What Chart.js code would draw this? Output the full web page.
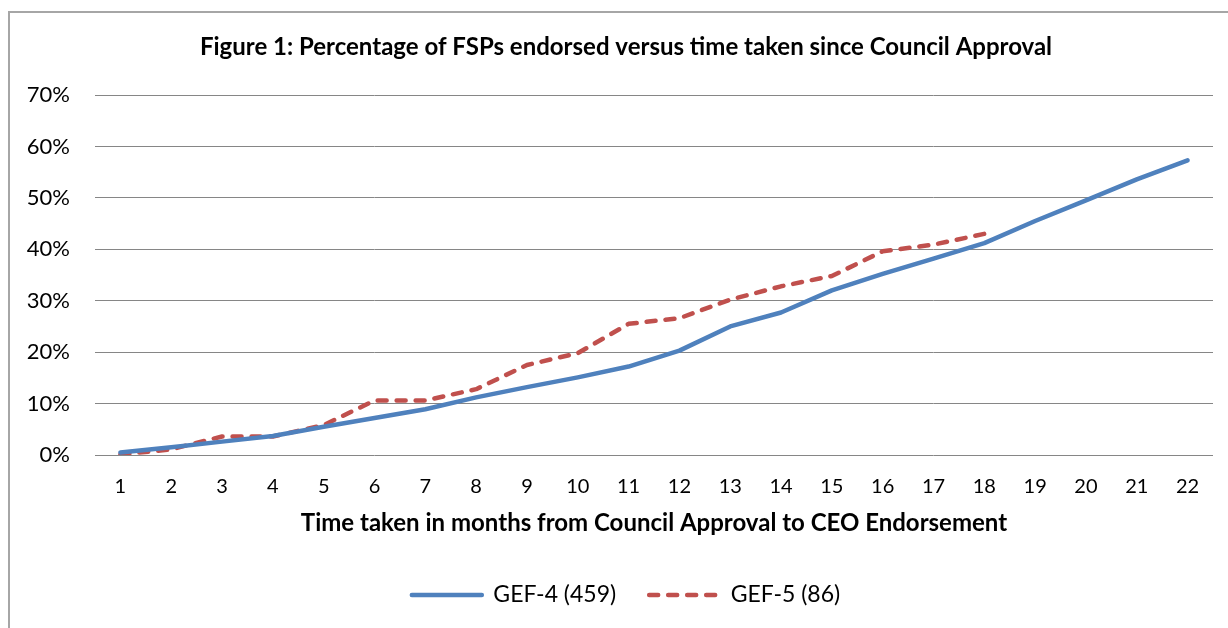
<!DOCTYPE html>
<html>
<head>
<meta charset="utf-8">
<script src="https://cdn.jsdelivr.net/npm/chart.js@4/dist/chart.umd.min.js"></script>
<style>
  html, body { margin: 0; padding: 0; background: #ffffff; }
  #wrap { width: 1228px; height: 628px; position: relative; }
</style>
</head>
<body>
<div id="wrap"><canvas id="c" width="1228" height="628"></canvas></div>
<script>
const months = ["1","2","3","4","5","6","7","8","9","10","11","12","13","14","15","16","17","18","19","20","21","22"];
const gef4 = [0.5,1.5,2.6,3.7,5.5,7.2,8.9,11.2,13.2,15.1,17.2,20.3,25.0,27.7,32.0,35.2,38.2,41.2,45.5,49.5,53.6,57.3];
const gef5 = [0.1,1.1,3.6,3.6,5.8,10.6,10.6,12.8,17.5,19.8,25.5,26.6,30.2,32.8,34.8,39.6,40.9,43.0];
const seriesNames = ["GEF-4 (459)", "GEF-5 (86)"];
const titleText = "Figure 1: Percentage of FSPs endorsed versus time taken since Council Approval";
const xTitleText = "Time taken in months from Council Approval to CEO Endorsement";

const FONT = "Lato, 'Open Sans', sans-serif";

const framePlugin = {
  id: 'frame',
  beforeDraw(chart) {
    const ctx = chart.ctx;
    ctx.save();
    ctx.fillStyle = '#ffffff';
    ctx.fillRect(0, 0, chart.width, chart.height);
    ctx.strokeStyle = '#a6a6a6';
    ctx.lineWidth = 2;
    ctx.beginPath();
    ctx.moveTo(9, chart.height + 5);
    ctx.lineTo(9, 12);
    ctx.lineTo(chart.width + 5, 12);
    ctx.stroke();
    ctx.restore();
  }
};

new Chart(document.getElementById('c'), {
  type: 'line',
  data: {
    labels: months,
    datasets: [
      {
        label: seriesNames[0],
        data: gef4,
        borderColor: '#4F81BD',
        backgroundColor: '#4F81BD',
        borderWidth: 4.5,
        pointRadius: 0,
        tension: 0,
        borderCapStyle: 'round',
        borderJoinStyle: 'round'
      },
      {
        label: seriesNames[1],
        data: gef5,
        borderColor: '#C0504D',
        backgroundColor: '#C0504D',
        borderWidth: 4.5,
        borderDash: [9, 10],
        pointRadius: 0,
        tension: 0,
        borderCapStyle: 'round',
        borderJoinStyle: 'round'
      }
    ]
  },
  options: {
    responsive: false,
    animation: false,
    layout: { padding: { left: 24, right: 0, top: 0, bottom: 11.5 } },
    plugins: {
      title: {
        display: true,
        text: titleText,
        color: '#000000',
        font: { family: FONT, size: 24, weight: 'bold' },
        padding: { top: 32.6, bottom: 33.6 }
      },
      legend: {
        display: true,
        position: 'bottom',
        labels: {
          color: '#000000',
          font: { family: FONT, size: 23 },
          usePointStyle: true,
          pointStyle: 'line',
          pointStyleWidth: 70,
          boxHeight: 20,
          padding: 33,
          generateLabels(chart) {
            const items = Chart.defaults.plugins.legend.labels.generateLabels(chart);
            items.forEach(it => {
              const ds = chart.data.datasets[it.datasetIndex];
              it.lineDash = ds.borderDash || [];
              it.lineWidth = ds.borderWidth;
              it.strokeStyle = ds.borderColor;
              it.fillStyle = ds.borderColor;
              it.lineCap = 'round';
              it.pointStyle = 'line';
            });
            return items;
          }
        }
      },
      tooltip: { enabled: false }
    },
    scales: {
      x: {
        offset: true,
        grid: { display: false, drawTicks: false },
        border: { display: false },
        ticks: {
          color: '#000000',
          font: { family: FONT, size: 20 },
          padding: 20,
          maxRotation: 0,
          autoSkip: false
        },
        title: {
          display: true,
          text: xTitleText,
          color: '#000000',
          font: { family: FONT, size: 24, weight: 'bold' },
          padding: { top: 6, bottom: 13 }
        },
        afterFit(scale) { scale.height = 95.5; }
      },
      y: {
        min: 0,
        max: 70,
        grid: { color: '#868686', lineWidth: 1, drawTicks: false },
        border: { display: false },
        ticks: {
          stepSize: 10,
          color: '#000000',
          font: { family: FONT, size: 22 },
          padding: 25,
          callback: v => v + '%'
        },
        afterFit(scale) { scale.width = 71; }
      },
      yRight: {
        position: 'right',
        min: 0,
        max: 70,
        grid: { display: false, drawTicks: false },
        border: { display: false },
        ticks: { display: false },
        afterFit(scale) { scale.width = 15; }
      }
    }
  },
  plugins: [framePlugin]
});
</script>
</body>
</html>
